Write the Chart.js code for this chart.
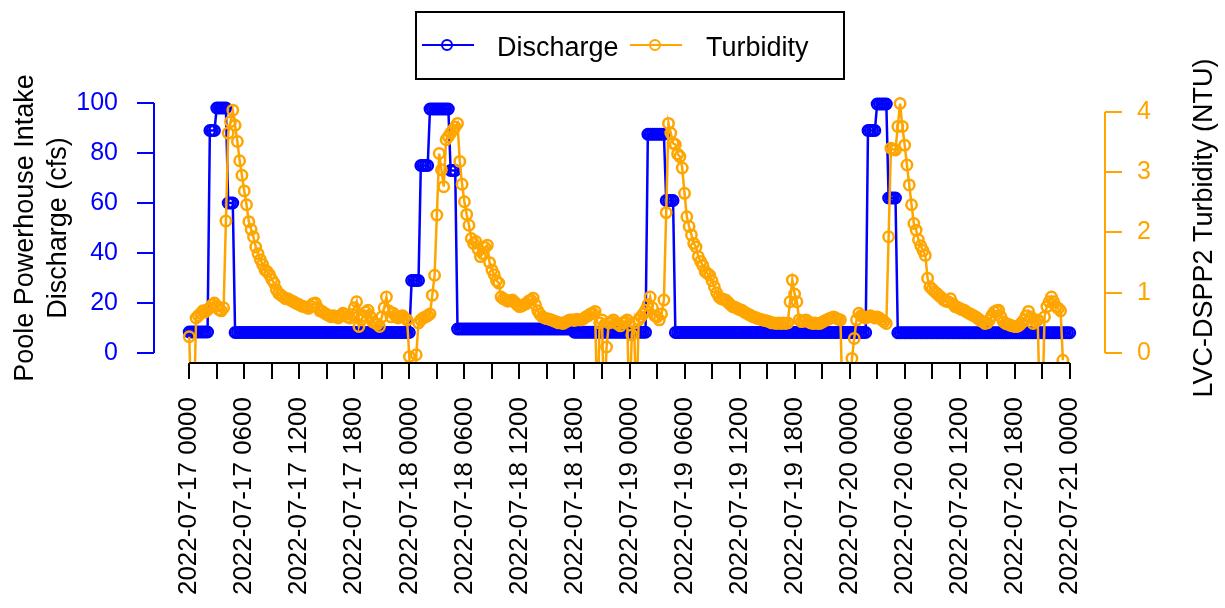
<!DOCTYPE html>
<html>
<head>
<meta charset="utf-8">
<script src="https://cdn.jsdelivr.net/npm/chart.js@4.4.1/dist/chart.umd.min.js"></script>
<style>
  html,body{margin:0;padding:0;background:#fff;}
  #wrap{position:relative;width:1225px;height:608px;}
</style>
</head>
<body>
<div id="wrap"><canvas id="chart" width="1225" height="608"></canvas></div>
<script>
/* Discharge vs turbidity, 15-min samples from 2022-07-17 00:00 */
const STEP_H = 0.25; // hours between samples

// Poole Powerhouse Intake discharge (cfs), one row = 6 h
const discharge = [
  8.4,8.4,8.4,8.4,8.4,8.4,8.4,8.4,8.4,89,89,89,98,98,98,98,98,60,60,60,8.2,8.2,8.2,8.2,
  8.2,8.2,8.2,8.2,8.2,8.2,8.2,8.2,8.2,8.2,8.2,8.2,8.2,8.2,8.2,8.2,8.2,8.2,8.2,8.2,8.2,8.2,8.2,8.2,
  8.2,8.2,8.2,8.2,8.2,8.2,8.2,8.2,8.2,8.2,8.2,8.2,8.2,8.2,8.2,8.2,8.2,8.2,8.2,8.2,8.2,8.2,8.2,8.2,
  8.2,8.2,8.2,8.2,8.2,8.2,8.2,8.2,8.2,8.2,8.2,8.2,8.2,8.2,8.2,8.2,8.2,8.2,8.2,8.2,8.2,8.2,8.2,8.2,
  8.2,29,29,29,29,75,75,75,75,97.6,97.6,97.6,97.6,97.6,97.6,97.6,97.6,97.6,73,73,73,9.6,9.6,9.6,
  9.6,9.6,9.6,9.6,9.6,9.6,9.6,9.6,9.6,9.6,9.6,9.6,9.6,9.6,9.6,9.6,9.6,9.6,9.6,9.6,9.6,9.6,9.6,9.6,
  9.6,9.6,9.6,9.6,9.6,9.6,9.6,9.6,9.6,9.6,9.6,9.6,9.6,9.6,9.6,9.6,9.6,9.6,9.6,9.6,9.6,9.6,9.6,9.6,
  8.3,8.3,8.3,8.3,8.3,8.3,8.3,8.3,8.3,8.3,8.3,8.3,8.3,8.3,8.3,8.3,8.3,8.3,8.3,8.3,8.3,8.3,8.3,8.3,
  8.3,8.3,8.3,8.3,8.3,8.3,8.3,8.3,87.5,87.5,87.5,87.5,87.5,87.5,87.5,87.5,61,61,61,61,8.2,8.2,8.2,8.2,
  8.2,8.2,8.2,8.2,8.2,8.2,8.2,8.2,8.2,8.2,8.2,8.2,8.2,8.2,8.2,8.2,8.2,8.2,8.2,8.2,8.2,8.2,8.2,8.2,
  8.2,8.2,8.2,8.2,8.2,8.2,8.2,8.2,8.2,8.2,8.2,8.2,8.2,8.2,8.2,8.2,8.2,8.2,8.2,8.2,8.2,8.2,8.2,8.2,
  8.2,8.2,8.2,8.2,8.2,8.2,8.2,8.2,8.2,8.2,8.2,8.2,8.2,8.2,8.2,8.2,8.2,8.2,8.2,8.2,8.2,8.2,8.2,8.2,
  8.2,8.2,8.2,8.2,8.2,8.2,8.2,8.2,89,89,89,89,99.6,99.6,99.6,99.6,99.6,62,62,62,62,8.1,8.1,8.1,
  8.1,8.1,8.1,8.1,8.1,8.1,8.1,8.1,8.1,8.1,8.1,8.1,8.1,8.1,8.1,8.1,8.1,8.1,8.1,8.1,8.1,8.1,8.1,8.1,
  8.1,8.1,8.1,8.1,8.1,8.1,8.1,8.1,8.1,8.1,8.1,8.1,8.1,8.1,8.1,8.1,8.1,8.1,8.1,8.1,8.1,8.1,8.1,8.1,
  8.1,8.1,8.1,8.1,8.1,8.1,8.1,8.1,8.1,8.1,8.1,8.1,8.1,8.1,8.1,8.1,8.1,8.1,8.1,8.1,8.1,8.1,8.1,8.1,
  8.1
];

// LVC-DSPP2 turbidity (NTU); -1 = sensor dropout, plots below the axis
const turbidity = [
  0.27,-1,-1,0.58,0.62,0.66,0.7,0.68,0.72,0.75,0.8,0.83,0.78,0.72,0.7,0.75,2.19,3.65,3.84,4.03,3.78,3.51,3.19,2.95,
  2.69,2.46,2.18,2.05,1.93,1.76,1.65,1.55,1.47,1.38,1.35,1.3,1.22,1.16,1.05,0.99,0.96,0.93,0.9,0.9,0.88,0.86,0.84,0.82,
  0.8,0.78,0.77,0.76,0.74,0.78,0.82,0.83,0.75,0.7,0.69,0.66,0.64,0.62,0.6,0.62,0.6,0.58,0.62,0.66,0.64,0.6,0.58,0.64,
  0.75,0.85,0.44,0.55,0.62,0.68,0.71,0.6,0.52,0.5,0.48,0.44,0.6,0.75,0.93,0.7,0.6,0.66,0.62,0.58,0.6,0.62,0.58,0.55,
  -0.06,-1,-1,-0.03,0.5,0.55,0.58,0.6,0.62,0.65,0.96,1.29,2.29,3.31,3.04,2.76,3.54,3.59,3.65,3.7,3.75,3.81,3.18,2.8,
  2.51,2.3,2.12,1.9,1.82,1.85,1.72,1.6,1.65,1.75,1.79,1.5,1.38,1.3,1.2,1.16,0.93,0.9,0.88,0.86,0.87,0.88,0.84,0.8,
  0.77,0.78,0.8,0.82,0.86,0.88,0.91,0.8,0.7,0.64,0.6,0.58,0.57,0.56,0.55,0.53,0.52,0.5,0.5,0.49,0.51,0.53,0.55,0.55,
  0.54,0.56,0.55,0.55,0.57,0.6,0.62,0.65,0.66,0.69,-1,0.5,0.55,-1,0.1,0.5,0.52,0.55,0.5,0.48,0.45,0.5,0.52,0.55,
  -1,0.3,0.5,-1,0.55,0.6,0.65,0.71,0.8,0.93,0.75,0.62,0.6,0.55,0.65,0.88,2.33,3.81,3.65,3.48,3.46,3.3,3.26,3.07,
  2.65,2.26,2.1,1.96,1.82,1.76,1.6,1.52,1.45,1.35,1.32,1.29,1.2,1.1,1.0,0.93,0.9,0.89,0.88,0.84,0.8,0.77,0.76,0.74,
  0.72,0.71,0.68,0.66,0.64,0.62,0.6,0.59,0.57,0.56,0.55,0.54,0.53,0.52,0.5,0.5,0.49,0.5,0.49,0.5,0.49,0.5,0.85,1.21,
  0.98,0.85,0.55,0.52,0.53,0.55,0.52,0.5,0.49,0.5,0.49,0.49,0.51,0.53,0.55,0.57,0.58,0.6,0.58,0.56,0.55,-1,-1,-1,
  -1,-0.09,0.24,0.55,0.66,0.62,0.6,0.58,0.6,0.62,0.6,0.58,0.6,0.58,0.55,0.52,0.49,1.93,3.4,3.38,3.37,3.76,4.14,3.76,
  3.45,3.12,2.79,2.46,2.15,2.04,1.88,1.78,1.7,1.62,1.24,1.1,1.06,1.02,0.99,0.95,0.92,0.88,0.86,0.85,0.9,0.82,0.77,0.76,
  0.74,0.72,0.71,0.68,0.66,0.64,0.62,0.6,0.57,0.54,0.52,0.49,0.5,0.55,0.62,0.68,0.7,0.71,0.6,0.52,0.49,0.48,0.46,0.45,
  0.44,0.44,0.46,0.5,0.55,0.62,0.69,0.6,0.49,0.52,0.55,-1,-1,0.6,0.77,0.85,0.93,0.85,0.77,0.74,0.7,-0.12
];

// x ticks every 3 h, labels every 6 h
const xTickHours = [0,3,6,9,12,15,18,21,24,27,30,33,36,39,42,45,48,51,54,57,60,63,66,69,72,75,78,81,84,87,90,93,96];
const xTickLabels = [
  '2022-07-17 0000','','2022-07-17 0600','','2022-07-17 1200','','2022-07-17 1800','',
  '2022-07-18 0000','','2022-07-18 0600','','2022-07-18 1200','','2022-07-18 1800','',
  '2022-07-19 0000','','2022-07-19 0600','','2022-07-19 1200','','2022-07-19 1800','',
  '2022-07-20 0000','','2022-07-20 0600','','2022-07-20 1200','','2022-07-20 1800','',
  '2022-07-21 0000'
];
const qTicks = [0,20,40,60,80,100];
const ntuTicks = [0,1,2,3,4];

const BLUE = '#0000FF', ORANGE = '#FFA500';
const FONT = "'Liberation Sans', Arial, sans-serif";

const toPts = (arr)=> arr.map((v,i)=> ({x: i*STEP_H, y: v}));

// R-style axis lines, titles and legend
const rDecor = {
  id: 'rDecor',
  afterDraw(chart){
    const {ctx, scales:{x, y, y1}} = chart;
    ctx.save();
    ctx.lineWidth = 2;
    // axis lines only between first and last tick
    ctx.strokeStyle = '#000';
    ctx.beginPath();
    ctx.moveTo(x.getPixelForValue(xTickHours[0]), x.top);
    ctx.lineTo(x.getPixelForValue(xTickHours[xTickHours.length-1]), x.top);
    ctx.stroke();
    ctx.strokeStyle = BLUE;
    ctx.beginPath();
    ctx.moveTo(y.right, y.getPixelForValue(qTicks[0]));
    ctx.lineTo(y.right, y.getPixelForValue(qTicks[qTicks.length-1]));
    ctx.stroke();
    ctx.strokeStyle = ORANGE;
    ctx.beginPath();
    ctx.moveTo(y1.left, y1.getPixelForValue(ntuTicks[0]));
    ctx.lineTo(y1.left, y1.getPixelForValue(ntuTicks[ntuTicks.length-1]));
    ctx.stroke();

    // axis titles (read bottom to top)
    ctx.fillStyle = '#000';
    ctx.font = '27px ' + FONT;
    ctx.textAlign = 'center';
    ctx.textBaseline = 'alphabetic';
    const midY = (chart.chartArea.top + chart.chartArea.bottom)/2;
    [['Poole Powerhouse Intake', 33], ['Discharge (cfs)', 66], ['LVC-DSPP2 Turbidity (NTU)', 1212]].forEach(([t, bx])=>{
      ctx.save();
      ctx.translate(bx, midY);
      ctx.rotate(-Math.PI/2);
      ctx.fillText(t, 0, 0);
      ctx.restore();
    });

    // legend box
    ctx.strokeStyle = '#000';
    ctx.strokeRect(416, 12, 428, 67);
    const items = [['Discharge', BLUE, 422, 497], ['Turbidity', ORANGE, 630, 706]];
    ctx.textAlign = 'left';
    items.forEach(([t, c, lx, tx])=>{
      ctx.strokeStyle = c;
      ctx.beginPath(); ctx.moveTo(lx, 45); ctx.lineTo(lx+52, 45); ctx.stroke();
      ctx.beginPath(); ctx.arc(lx+25, 45, 5, 0, Math.PI*2); ctx.stroke();
      ctx.fillStyle = '#000';
      ctx.fillText(t, tx, 56);
    });
    ctx.restore();
  }
};

new Chart(document.getElementById('chart'), {
  type: 'line',
  data: {
    datasets: [
      { label:'Discharge', data: toPts(discharge), yAxisID:'y', order: 1,
        borderColor: BLUE, borderWidth: 2.5, tension: 0,
        pointStyle:'circle', pointRadius: 5.2, pointBorderWidth: 2.5,
        pointBorderColor: BLUE, pointBackgroundColor: 'rgba(0,0,0,0)' },
      { label:'Turbidity', data: toPts(turbidity), yAxisID:'y1', order: 0,
        borderColor: ORANGE, borderWidth: 2.5, tension: 0,
        pointStyle:'circle', pointRadius: 5.2, pointBorderWidth: 2.5,
        pointBorderColor: ORANGE, pointBackgroundColor: 'rgba(0,0,0,0)',
        clip: {left: 10, right: 10, top: 10, bottom: 1} }
    ]
  },
  options: {
    responsive: false,
    animation: false,
    events: [],
    layout: { padding: { top: 93, left: 0, right: 0, bottom: 0 } },
    plugins: { legend: { display: false }, tooltip: { enabled: false } },
    scales: {
      x: {
        type: 'linear', min: -3.84, max: 99.84,
        afterBuildTicks: (s)=> { s.ticks = xTickHours.map(v=> ({value: v})); },
        afterFit: (s)=> { s.height = 245; },
        border: { display: false },
        grid: { drawOnChartArea: false, tickLength: 16, color: '#000', lineWidth: 2 },
        ticks: { autoSkip: false, minRotation: 90, maxRotation: 90, padding: 18, color: '#000',
          font: { family: FONT, size: 26 },
          callback: (v)=> xTickLabels[xTickHours.indexOf(v)] }
      },
      y: {
        position: 'left', min: -4, max: 104,
        afterBuildTicks: (s)=> { s.ticks = qTicks.map(v=> ({value: v})); },
        afterFit: (s)=> { s.width = 154; },
        border: { display: false },
        grid: { drawOnChartArea: false, tickLength: 17, color: BLUE, lineWidth: 2 },
        ticks: { color: BLUE, padding: 19, font: { family: FONT, size: 25 } }
      },
      y1: {
        position: 'right', min: -0.166, max: 4.315,
        afterBuildTicks: (s)=> { s.ticks = ntuTicks.map(v=> ({value: v})); },
        afterFit: (s)=> { s.width = 120; },
        border: { display: false },
        grid: { drawOnChartArea: false, tickLength: 17, color: ORANGE, lineWidth: 2 },
        ticks: { color: ORANGE, padding: 15, font: { family: FONT, size: 25 } }
      }
    }
  },
  plugins: [rDecor]
});
</script>
</body>
</html>
